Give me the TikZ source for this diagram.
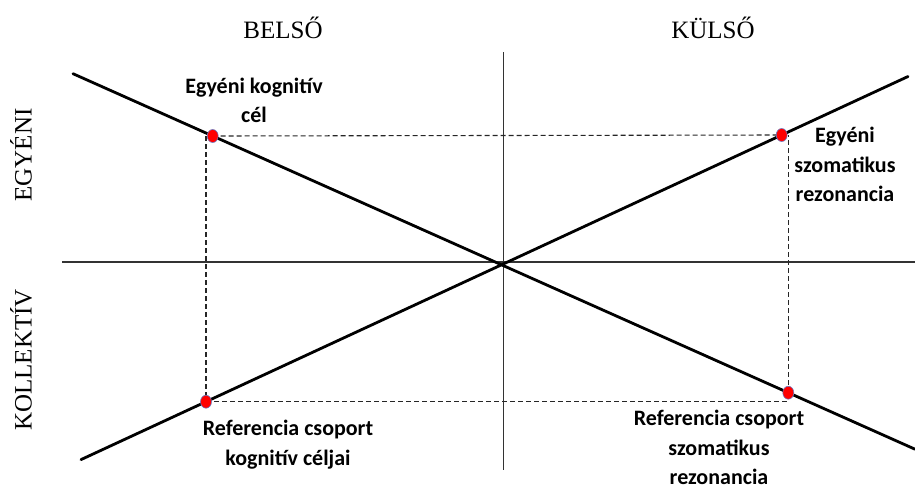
\documentclass[tikz,border=0pt]{standalone}
\usepackage{fontspec}
\setmainfont{Liberation Serif}
\newfontfamily\lblfont{Carlito}
\usetikzlibrary{shapes.geometric}
\begin{document}
\begin{tikzpicture}[x=1pt,y=-1pt,
  axis/.style={line width=1.2pt, black!80},
  diag/.style={line width=2.8pt, line cap=round},
  guide/.style={line width=1.1pt, dash pattern=on 5pt off 3pt, black!85},
  dot/.style={ellipse, minimum width=11pt, minimum height=13pt, inner sep=0pt,
              fill=red, draw={rgb,255:red,110;green,120;blue,190}, line width=0.6pt},
  heading/.style={font=\fontsize{25}{30}\selectfont, anchor=base, inner sep=0pt},
  side/.style={heading, rotate=90},
  % multi-line labels: the base anchor sits on the last line's baseline
  lbl/.style={font=\lblfont\bfseries\fontsize{22}{29.5}\selectfont, align=center,
              anchor=base, inner sep=0pt}]
\useasboundingbox (0,0) rectangle (915,490);

% axes
\coordinate (xl) at (62,262);
\coordinate (xr) at (915,262);
\coordinate (yt) at (503.3,52);
\coordinate (yb) at (503.3,470);
\draw[axis] (xl) -- (xr);
\draw[axis] (yt) -- (yb);

% the two crossing lines
\coordinate (a1) at (73,73.7);
\coordinate (a2) at (915,449.2);
\coordinate (b1) at (81,459.6);
\coordinate (b2) at (908,76.5);
\draw[diag] (a1) -- (a2);
\draw[diag] (b1) -- (b2);

% points on the lines
\coordinate (p1) at (212.7,136);
\coordinate (p2) at (781.7,135);
\coordinate (p3) at (206,401.7);
\coordinate (p4) at (788.3,392.7);

% dashed guide rectangle
\draw[guide] (p1) -- (p2);
\draw[guide] (p3|-p1) -- (p3);
\draw[guide] (p3) -- (p3-|p4);
\draw[guide] (p4) -- (p4|-p2);

\node[dot] (d1) at (p1) {};
\node[dot] (d2) at (p2) {};
\node[dot] (d3) at (p3) {};
\node[dot] (d4) at (p4) {};

% headings
\node[heading] (belso) at (283,38) {BELSŐ};
\node[heading] (kulso) at (713,38) {KÜLSŐ};
\node[side] (egyeni) at (31.5,155) {EGYÉNI};
\node[side] (kollektiv) at (31.5,360) {KOLLEKTÍV};

% point labels
\node[lbl] (t1) at (254,122.5) {Egyéni kognitív\\cél};
\node[lbl] (t2) at (845,201.5) {Egyéni\\szomatikus\\rezonancia};
\node[lbl] (t3) at (288,465) {Referencia csoport\\kognitív céljai};
\node[lbl] (t4) at (719,484.5) {Referencia csoport\\szomatikus\\rezonancia};
\end{tikzpicture}
\end{document}
